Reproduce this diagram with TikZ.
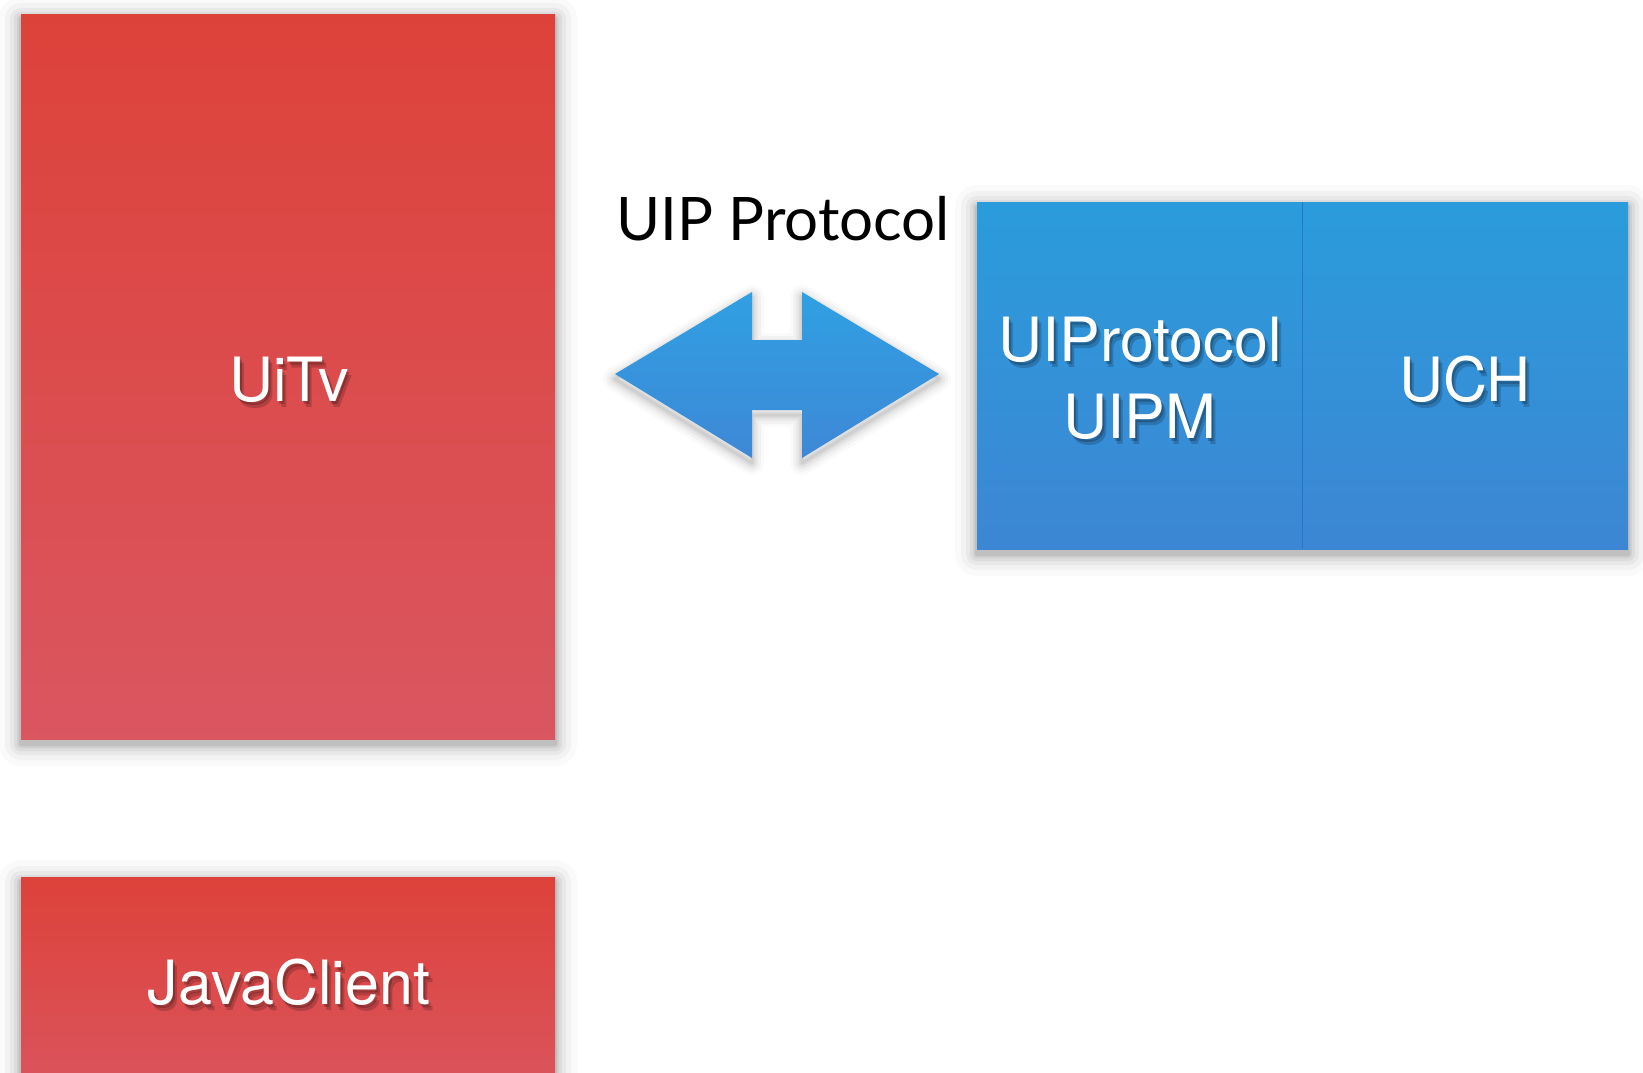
\documentclass[tikz,border=0pt]{standalone}
\usepackage{fontspec}
\setmainfont{TeX Gyre Heros}
\newfontfamily\gillfont{Lato}
\definecolor{rtop}{RGB}{221,66,58}
\definecolor{rbot}{RGB}{218,86,96}
\definecolor{btop}{RGB}{42,156,219}
\definecolor{bbot}{RGB}{61,134,212}
\definecolor{atop}{RGB}{48,160,226}
\definecolor{abot}{RGB}{62,136,214}
\definecolor{bdiv}{RGB}{36,120,200}
\newcommand\softshadow[4]{%
  \foreach \s/\o in {22/0.02,16/0.03,11/0.04,7/0.05,4/0.06,2/0.07}{%
    \fill[black, opacity=\o, rounded corners=\s pt] (#1-\s,#2-\s+5) rectangle (#3+\s,#4+\s+5);
  }}
\newcommand\wlabel[4]{%
  \node[tshadow] at (#2+4,#3+6) {#4};
  \node[tshadow2] at (#2+2,#3+3) {#4};
  \node[wtext] (#1) at (#2,#3) {#4};}
\begin{document}
\begin{tikzpicture}[x=1pt,y=-1pt,
  redbox/.style={rectangle, anchor=north west, inner sep=0pt, top color=rtop, bottom color=rbot, draw=none},
  bluebox/.style={rectangle, anchor=north west, inner sep=0pt, top color=btop, bottom color=bbot, draw=none},
  wtext/.style={text=white, font=\fontsize{61}{70}\selectfont, anchor=base, inner sep=0pt},
  tshadow/.style={text=black, text opacity=0.18, font=\fontsize{61}{70}\selectfont, anchor=base, inner sep=0pt},
  tshadow2/.style={text=black, text opacity=0.22, font=\fontsize{61}{70}\selectfont, anchor=base, inner sep=0pt},
  title/.style={text=black, font=\gillfont\fontsize{60}{70}\selectfont, anchor=base west, inner sep=0pt}]
\useasboundingbox (0,0) rectangle (1643,1073);
\fill[white] (0,0) rectangle (1643,1073);

% shadows
\softshadow{21}{14}{555}{739}
\softshadow{21}{877}{555}{1110}
\softshadow{977}{202}{1628}{549}

% boxes
\node[redbox, minimum width=534pt, minimum height=725pt] (uitvbox) at (21,14) {};
\node[redbox, minimum width=534pt, minimum height=233pt] (javabox) at (21,877) {};
\node[bluebox, minimum width=325pt, minimum height=347pt] (uipmbox) at (977,202) {};
\node[bluebox, minimum width=326pt, minimum height=347pt] (uchbox) at (1302,202) {};
\draw[bdiv, line width=1pt] (uipmbox.north east) -- (uipmbox.south east);

% double arrow
\foreach \w/\o in {24/0.02,18/0.03,12/0.04,7/0.05,3/0.06}{
  \draw[black, opacity=\o, line width=\w pt, line join=round]
    (615,379) -- (752,297) -- (752,345) -- (802,345) -- (802,297) -- (939,379)
    -- (802,463) -- (802,415) -- (752,415) -- (752,463) -- cycle;
}
\shade[top color=atop, bottom color=abot]
  (615,374) -- (752,292) -- (752,340) -- (802,340) -- (802,292) -- (939,374)
  -- (802,458) -- (802,410) -- (752,410) -- (752,458) -- cycle;

% title
\node[title] (uip) at (616,240) {UIP Protocol};

% labels
\wlabel{uitv}{289}{401}{UiTv}
\wlabel{java}{289}{1004}{JavaClient}
\wlabel{uiprot}{1140}{361}{UIProtocol}
\wlabel{uipm}{1140}{438}{UIPM}
\wlabel{uch}{1465}{401}{UCH}
\end{tikzpicture}
\end{document}
